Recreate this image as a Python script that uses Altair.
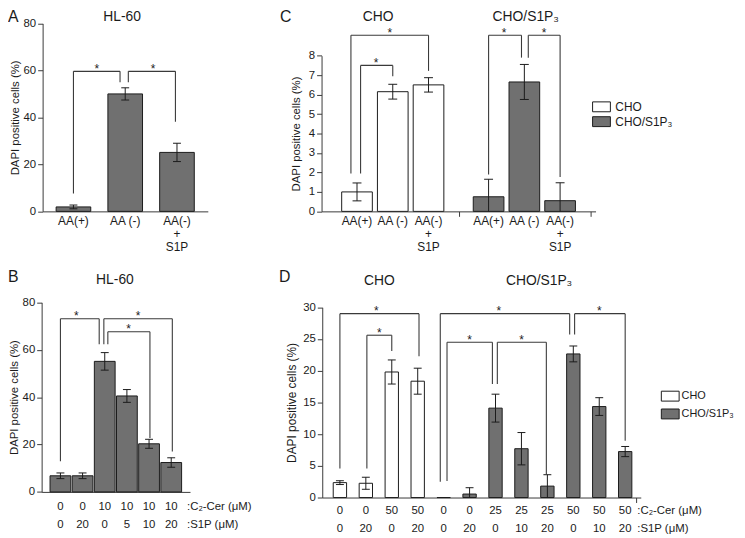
import altair as alt
import pandas as pd

FONT = "Liberation Sans"
INK = "#1b1b1b"
LINE = "#3a3a3a"
GRAY = "#707070"
W, H = 737, 530


def px(v):
    # reference-pixel -> chart coordinate (page margin is 8px)
    return v - 8


# ---------------- data ----------------
YTITLE = "DAPI positive cells (%)"
legend_names = ["CHO", "CHO/S1P₃"]
legend_fill = ["white", GRAY]

# Panel A  (HL-60, AA deprivation)
a_labels = ["AA(+)", "AA (-)", "AA(-)\n+\nS1P"]
a_values = [1.9, 50.0, 25.1]
a_errors = [0.8, 2.6, 3.9]
a_br_x1 = [0.0, 1.06]
a_br_x2 = [0.90, 1.97]
a_br_y1 = [7.6, 55.0]
a_br_y2 = [55.0, 38.2]
a_br_top = [59.6, 59.6]
a_star_x = [0.45, 1.54]
a_titles = ["HL-60"]
a_title_x = [0.94]

# Panel B  (HL-60, C2-ceramide)
b_cer = ["0", "0", "10", "10", "10", "10"]
b_s1p = ["0", "20", "0", "5", "10", "20"]
b_values = [6.8, 6.8, 55.1, 40.5, 20.3, 12.4]
b_errors = [1.2, 1.2, 3.7, 2.7, 1.9, 2.0]
b_br_x1 = [0.0, 1.96, 2.14]
b_br_x2 = [1.75, 5.05, 4.04]
b_br_y1 = [12.9, 62.3, 62.3]
b_br_y2 = [62.3, 17.1, 22.7]
b_br_top = [73.1, 73.1, 67.6]
b_star_x = [0.72, 3.5, 3.08]
b_titles = ["HL-60"]
b_title_x = [2.46]
units = [":C₂-Cer  (μM)", ":S1P (μM)"]

# Panel C  (CHO vs CHO/S1P3, AA deprivation)
c_groups = ["CHO", "CHO", "CHO", "CHO/S1P₃", "CHO/S1P₃", "CHO/S1P₃"]
c_labels = ["AA(+)", "AA (-)", "AA(-)\n+\nS1P", "AA(+)", "AA (-)", "AA(-)\n+\nS1P"]
c_values = [1.0, 6.15, 6.5, 0.75, 6.65, 0.55]
c_errors = [0.46, 0.38, 0.37, 0.9, 0.9, 0.92]
c_br_x1 = [-0.17, 0.10, 3.68, 4.79]
c_br_x2 = [2.0, 1.0, 4.60, 5.68]
c_br_y1 = [1.94, 1.94, 1.9, 7.9]
c_br_y2 = [7.22, 6.94, 7.9, 1.77]
c_br_top = [9.05, 7.5, 9.05, 9.05]
c_star_x = [0.92, 0.53, 4.11, 5.23]
c_titles = ["CHO", "CHO/S1P₃"]
c_title_x = [0.59, 4.72]

# Panel D  (CHO vs CHO/S1P3, C2-ceramide)
d_groups = ["CHO"] * 4 + ["CHO/S1P₃"] * 8
d_cer = ["0", "0", "50", "50", "0", "0", "25", "25", "25", "50", "50", "50"]
d_s1p = ["0", "20", "0", "20", "0", "20", "0", "10", "20", "0", "10", "20"]
d_values = [2.35, 2.25, 19.8, 18.35, 0.0, 0.55, 14.1, 7.7, 1.8, 22.65, 14.35, 7.25]
d_errors = [0.3, 0.95, 1.9, 2.05, 0.0, 1.0, 2.2, 2.55, 1.8, 1.25, 1.4, 0.8]
d_br_x1 = [0.0, 1.04, 3.87, 4.13, 6.07, 9.05]
d_br_x2 = [3.05, 2.0, 8.86, 5.88, 7.96, 11.0]
d_br_y1 = [4.57, 4.57, 2.5, 2.6, 17.9, 25.7]
d_br_y2 = [22.3, 23.1, 25.7, 17.9, 3.6, 8.95]
d_br_top = [29.0, 25.6, 29.0, 24.5, 24.5, 29.0]
d_star_x = [1.4, 1.52, 6.13, 5.0, 7.0, 10.0]
d_titles = ["CHO", "CHO/S1P₃"]
d_title_x = [1.52, 7.68]

# ---------------- layout (reference pixels) ----------------
C_GROUP_GAP = 0.68
LAY = {
    "A": dict(x0=43, x1=210, y0=210.7, y1=20.7, xdom=[-0.5, 2.5], ydom=[0, 80],
              yticks=[0, 20, 40, 60, 80], bar=35, cap=4, tpad=3, tfs=11.5),
    "B": dict(x0=42, x1=192, y0=494.3, y1=302.7, xdom=[-0.625, 5.625], ydom=[0, 80],
              yticks=[0, 20, 40, 60, 80], bar=21, cap=4, tpad=3, tfs=11.5),
    "C": dict(x0=325, x1=602, y0=210.7, y1=53.3, xdom=[-0.853, 6.533], ydom=[0, 8],
              yticks=list(range(0, 9)), bar=31, cap=4.5, tpad=7, tfs=11.5),
    "D": dict(x0=325.7, x1=647.7, y0=500, y1=307.7, xdom=[-0.49, 11.41], ydom=[0, 30],
              yticks=[0, 5, 10, 15, 20, 25, 30], bar=13.5, cap=4, tpad=4.5, tfs=12),
}


def bar_frame(values, errors, pos=None, **cols):
    df = pd.DataFrame({"value": values, "err": errors, **cols})
    df["pos"] = pos if pos is not None else list(range(len(values)))
    df["hi"] = df["value"] + df["err"]
    df["lo_raw"] = df["value"] - df["err"]
    df["lo"] = df["lo_raw"].clip(lower=0)
    return df


def bracket_frame(x1, x2, y1, y2, top, sx):
    return pd.DataFrame({"x1": x1, "x2": x2, "y1": y1, "y2": y2, "top": top, "sx": sx})


def group_fill(lx, ly, rowpad, fs=12, loff=8):
    return alt.Fill(
        "group:N",
        scale=alt.Scale(domain=legend_names, range=legend_fill),
        legend=alt.Legend(
            title=None, orient="none", legendX=lx, legendY=ly,
            symbolType="M-1.8,-1H1.8V1H-1.8Z", symbolSize=100,
            symbolStrokeColor=INK, symbolStrokeWidth=1, symbolOpacity=1,
            labelFont=FONT, labelFontSize=fs, labelColor=INK, labelOffset=loff,
            rowPadding=rowpad, padding=0,
        ),
    )


def txt(**kw):
    base = dict(font=FONT, color=INK)
    base.update(kw)
    return base


def build_panel(bars, brk, L, fill, xaxis_extra, extra_layers):
    xs = alt.Scale(domain=L["xdom"], range=[px(L["x0"]), px(L["x1"])], nice=False, zero=False)
    ys = alt.Scale(domain=L["ydom"], range=[px(L["y0"]), px(L["y1"])], nice=False, zero=False)
    yaxis = alt.Axis(orient="left", offset=-px(L["x0"]), values=L["yticks"], title=YTITLE,
                     titlePadding=L["tpad"], titleFontSize=L["tfs"], grid=False)
    xaxis = alt.Axis(orient="bottom", offset=px(L["y0"]) - H, title=None, labels=False,
                     grid=False, **xaxis_extra)

    def X(f):
        return alt.X(f, type="quantitative", scale=xs, axis=xaxis)

    def Y(f):
        return alt.Y(f, type="quantitative", scale=ys, axis=yaxis)

    base = alt.Chart(bars)
    layers = [
        base.mark_bar(orient="vertical", size=L["bar"], stroke=INK, strokeWidth=1).encode(
            x=X("pos"), y=Y("value"), fill=fill)
    ]
    err = base.transform_filter("datum.err > 0")
    cap = dict(color=INK, strokeWidth=1, xOffset=-L["cap"], x2Offset=L["cap"])
    layers += [
        err.mark_rule(color=INK, strokeWidth=1).encode(x=X("pos"), y=Y("lo"), y2=alt.Y2("hi")),
        err.mark_rule(**cap).encode(x=X("pos"), x2=alt.X2("pos"), y=Y("hi")),
        base.transform_filter("datum.lo_raw > 0.05").mark_rule(**cap).encode(
            x=X("pos"), x2=alt.X2("pos"), y=Y("lo")),
    ]
    b = alt.Chart(brk)
    ln = dict(color=LINE, strokeWidth=1.1)
    layers += [
        b.mark_rule(**ln).encode(x=X("x1"), y=Y("y1"), y2=alt.Y2("top")),
        b.mark_rule(**ln).encode(x=X("x1"), x2=alt.X2("x2"), y=Y("top")),
        b.mark_rule(**ln).encode(x=X("x2"), y=Y("y2"), y2=alt.Y2("top")),
        b.mark_text(**txt(text="*", fontSize=12, baseline="alphabetic", dy=1.4)).encode(
            x=X("sx"), y=Y("top")),
    ]
    layers += extra_layers(X)
    return alt.layer(*layers)


def title_layers(X, titles, title_x, ty, letter, lx, ly):
    tdf = pd.DataFrame({"t": titles, "x": title_x})
    return [
        alt.Chart(tdf).mark_text(**txt(fontSize=14, align="center", baseline="alphabetic")).encode(
            x=X("x"), y=alt.value(px(ty)), text="t:N"),
        alt.Chart(pd.DataFrame({"t": [letter]})).mark_text(
            **txt(fontSize=16, align="left", baseline="alphabetic")).encode(
            x=alt.value(px(lx)), y=alt.value(px(ly)), text="t:N"),
    ]


def unit_layers(X, xend, rows_y, dx):
    out = []
    for u, yy in zip(units, rows_y):
        out.append(
            alt.Chart(pd.DataFrame({"t": [u], "x": [xend]})).mark_text(
                **txt(fontSize=11.5, align="left", baseline="alphabetic", dx=dx)).encode(
                x=X("x"), y=alt.value(px(yy)), text="t:N"))
    return out


TOP_TITLE_Y, TOP_LETTER_Y = 18.5, 19.5

# ---- Panel A ----
dfA = bar_frame(a_values, a_errors, label=a_labels)
brA = bracket_frame(a_br_x1, a_br_x2, a_br_y1, a_br_y2, a_br_top, a_star_x)


def extraA(X):
    return [
        alt.Chart(dfA).mark_text(**txt(fontSize=12, lineBreak="\n", lineHeight=13.5,
                                       baseline="alphabetic")).encode(
            x=X("pos"), y=alt.value(px(224)), text="label:N"),
    ] + title_layers(X, a_titles, a_title_x, TOP_TITLE_Y, "A", 8, TOP_LETTER_Y)


pA = build_panel(dfA, brA, LAY["A"], alt.value(GRAY), dict(ticks=False), extraA)

# ---- Panel B ----
dfB = bar_frame(b_values, b_errors, cer=b_cer, s1p=b_s1p)
brB = bracket_frame(b_br_x1, b_br_x2, b_br_y1, b_br_y2, b_br_top, b_star_x)


def extraB(X):
    rows = [512.5, 531]
    return [
        alt.Chart(dfB).mark_text(**txt(fontSize=11.5, baseline="alphabetic")).encode(
            x=X("pos"), y=alt.value(px(rows[0])), text="cer:N"),
        alt.Chart(dfB).mark_text(**txt(fontSize=11.5, baseline="alphabetic")).encode(
            x=X("pos"), y=alt.value(px(rows[1])), text="s1p:N"),
    ] + unit_layers(X, LAY["B"]["xdom"][1], rows, 2) + title_layers(
        X, b_titles, b_title_x, 284, "B", 8, 282.5)


pB = build_panel(dfB, brB, LAY["B"], alt.value(GRAY), dict(ticks=False), extraB)

# ---- Panel C ----
c_pos = [i + C_GROUP_GAP * legend_names.index(g) for i, g in enumerate(c_groups)]
dfC = bar_frame(c_values, c_errors, pos=c_pos, group=c_groups, label=c_labels)
brC = bracket_frame(c_br_x1, c_br_x2, c_br_y1, c_br_y2, c_br_top, c_star_x)
c_sep = (c_pos[2] + c_pos[3]) / 2


def extraC(X):
    return [
        alt.Chart(dfC).mark_text(**txt(fontSize=12, lineBreak="\n", lineHeight=13.5,
                                       baseline="alphabetic")).encode(
            x=X("pos"), y=alt.value(px(224)), text="label:N"),
    ] + title_layers(X, c_titles, c_title_x, TOP_TITLE_Y, "C", 283, TOP_LETTER_Y)


pC = build_panel(dfC, brC, LAY["C"], group_fill(594, 91, 1),
                 dict(values=[c_sep, LAY["C"]["xdom"][1]], ticks=True, tickSize=5), extraC)

# ---- Panel D ----
dfD = bar_frame(d_values, d_errors, group=d_groups, cer=d_cer, s1p=d_s1p)
brD = bracket_frame(d_br_x1, d_br_x2, d_br_y1, d_br_y2, d_br_top, d_star_x)


def extraD(X):
    rows = [517, 535]
    return [
        alt.Chart(dfD).mark_text(**txt(fontSize=11.5, baseline="alphabetic")).encode(
            x=X("pos"), y=alt.value(px(rows[0])), text="cer:N"),
        alt.Chart(dfD).mark_text(**txt(fontSize=11.5, baseline="alphabetic")).encode(
            x=X("pos"), y=alt.value(px(rows[1])), text="s1p:N"),
    ] + unit_layers(X, LAY["D"]["xdom"][1], rows, 1.5) + title_layers(
        X, d_titles, d_title_x, 285, "D", 282, 282)


pD = build_panel(dfD, brD, LAY["D"], group_fill(664, 384, 3, fs=11, loff=6),
                 dict(values=[LAY["D"]["xdom"][1]], ticks=True, tickSize=5), extraD)

chart = (
    alt.layer(pA, pB, pC, pD)
    .resolve_scale(x="independent", y="independent", fill="independent")
    .resolve_axis(x="independent", y="independent")
    .resolve_legend(fill="independent")
    .properties(width=W, height=H, padding=0, autosize=alt.AutoSizeParams(type="none"))
    .configure_view(stroke=None)
    .configure_axis(
        labelFont=FONT, titleFont=FONT, labelFontSize=11.5, titleFontWeight="normal",
        labelColor=INK, titleColor=INK, domainColor=LINE, tickColor=LINE,
        grid=False, tickSize=5, labelPadding=2, domainWidth=1, tickWidth=1,
    )
)

chart.save("out.html", embed_options={"renderer": "svg", "actions": False})
